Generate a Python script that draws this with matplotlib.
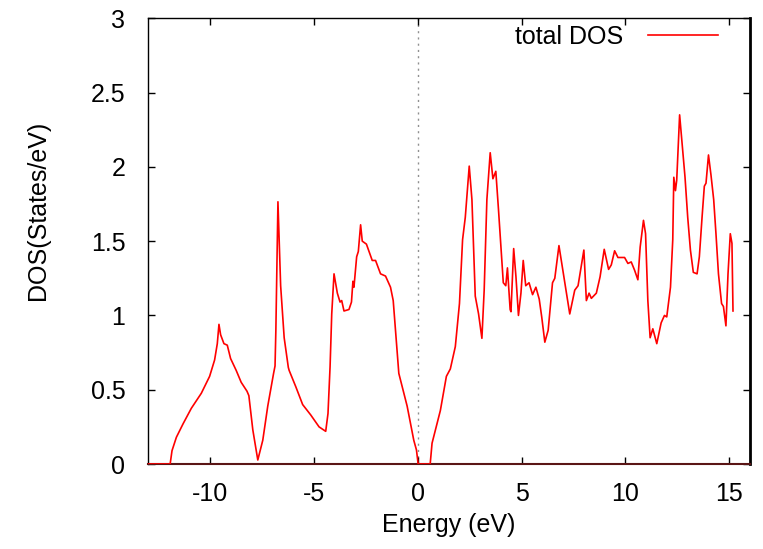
import numpy as np
import matplotlib
matplotlib.use('Agg')
import matplotlib.pyplot as plt

# total DOS
energy = [-12.95, -11.92, -11.83, -11.62, -11.3, -10.9, -10.42, -10.02, -9.78, -9.65,
          -9.57, -9.49, -9.33, -9.17, -9.01, -8.74, -8.5, -8.22, -8.13, -7.94,
          -7.70, -7.46, -7.22, -6.94, -6.87, -6.83, -6.73, -6.6, -6.43, -6.23,
          -6.19, -5.87, -5.54, -5.15, -4.75, -4.43, -4.32, -4.22, -4.14, -4.03,
          -3.87, -3.74, -3.66, -3.55, -3.31, -3.19, -3.12, -3.07, -2.94, -2.86,
          -2.75, -2.67, -2.47, -2.19, -2.03, -1.79, -1.55, -1.31, -1.18, -1.07,
          -0.91, -0.51, -0.19, -0.06, 0.02, 0.60, 0.69, 1.09, 1.38, 1.57,
          1.81, 2.01, 2.16, 2.29, 2.48, 2.61, 2.77, 2.93, 3.09, 3.2,
          3.33, 3.49, 3.62, 3.76, 3.89, 4.12, 4.24, 4.32, 4.45, 4.49,
          4.62, 4.73, 4.85, 4.97, 5.08, 5.2, 5.36, 5.53, 5.69, 5.85,
          5.97, 6.12, 6.28, 6.49, 6.6, 6.8, 7.08, 7.32, 7.56, 7.72,
          8.0, 8.12, 8.25, 8.36, 8.6, 8.78, 8.98, 9.19, 9.32, 9.48,
          9.64, 9.96, 10.12, 10.28, 10.44, 10.6, 10.71, 10.87, 10.97, 11.08,
          11.19, 11.32, 11.51, 11.72, 11.88, 11.99, 12.17, 12.28, 12.33, 12.41,
          12.47, 12.61, 12.73, 12.87, 13.0, 13.13, 13.27, 13.45, 13.56, 13.69,
          13.8, 13.88, 14.0, 14.12, 14.25, 14.36, 14.48, 14.63, 14.72, 14.84,
          14.94, 15.05, 15.13, 15.18]
dos = [0, 0, 0.09, 0.18, 0.27, 0.375, 0.476, 0.59, 0.70, 0.81,
       0.94, 0.87, 0.81, 0.80, 0.71, 0.63, 0.55, 0.49, 0.46, 0.23,
       0.027, 0.16, 0.39, 0.61, 0.66, 0.90, 1.765, 1.2, 0.85, 0.65,
       0.63, 0.52, 0.40, 0.33, 0.25, 0.22, 0.34, 0.655, 1.01, 1.28,
       1.15, 1.09, 1.10, 1.03, 1.04, 1.09, 1.23, 1.19, 1.395, 1.43,
       1.61, 1.50, 1.48, 1.37, 1.37, 1.28, 1.265, 1.19, 1.10, 0.90,
       0.61, 0.39, 0.16, 0.094, 0, 0, 0.14, 0.36, 0.59, 0.64,
       0.79, 1.08, 1.51, 1.66, 2.005, 1.78, 1.13, 1.01, 0.846, 1.17,
       1.78, 2.095, 1.92, 1.97, 1.71, 1.22, 1.20, 1.32, 1.04, 1.025,
       1.45, 1.26, 1.00, 1.15, 1.37, 1.20, 1.22, 1.14, 1.19, 1.11,
       0.99, 0.82, 0.90, 1.22, 1.25, 1.47, 1.22, 1.01, 1.17, 1.20,
       1.44, 1.10, 1.15, 1.115, 1.15, 1.26, 1.445, 1.31, 1.34, 1.435,
       1.39, 1.39, 1.35, 1.36, 1.305, 1.24, 1.46, 1.64, 1.55, 1.10,
       0.85, 0.91, 0.81, 0.95, 1.00, 0.99, 1.19, 1.51, 1.93, 1.84,
       1.91, 2.35, 2.16, 1.93, 1.66, 1.44, 1.29, 1.28, 1.395, 1.66,
       1.87, 1.89, 2.08, 1.945, 1.78, 1.55, 1.28, 1.08, 1.06, 0.93,
       1.28, 1.55, 1.485, 1.03]

xticks = [-10, -5, 0, 5, 10, 15]
yticks = [0, 0.5, 1, 1.5, 2, 2.5, 3]
ytick_labels = ['0', '0.5', '1', '1.5', '2', '2.5', '3']

plt.rcParams['font.family'] = ['Liberation Sans', 'DejaVu Sans']
plt.rcParams['font.size'] = 18
plt.rcParams['axes.unicode_minus'] = False

fig = plt.figure(figsize=(7.63, 5.49), dpi=100)
ax = fig.add_axes([0.1936, 0.1548, 0.7894, 0.8119])

ax.axvline(0, color='#909090', lw=1.0, ls=(0, (1.5, 3)), zorder=1)
ax.plot(energy, dos, color='#ff0000', lw=1.2, label='total DOS', zorder=3)

ax.set_xlim(-13, 16)
ax.set_ylim(0, 3)
ax.set_xticks(xticks)
ax.set_yticks(yticks)
ax.set_yticklabels(ytick_labels)
ax.tick_params(direction='in', length=5, width=1, top=True, right=True,
               labelsize=18, pad=13)
ax.tick_params(axis='y', pad=16)
for s in ax.spines.values():
    s.set_linewidth(1.0)
ax.spines['right'].set_linewidth(2.0)
ax.spines['bottom'].set_color('#5a1515')
ax.spines['bottom'].set_linewidth(1.5)

ax.set_xlabel('Energy (eV)', fontsize=18, labelpad=5)
ax.set_ylabel('DOS(States/eV)', fontsize=18)
ax.yaxis.set_label_coords(-0.163, 0.57)

ax.legend(loc='center right', bbox_to_anchor=(0.947, 0.958), frameon=False,
          markerfirst=False, handlelength=2.8, handletextpad=1.0,
          borderpad=0, borderaxespad=0, fontsize=18)

fig.savefig('out.png', dpi=100)
